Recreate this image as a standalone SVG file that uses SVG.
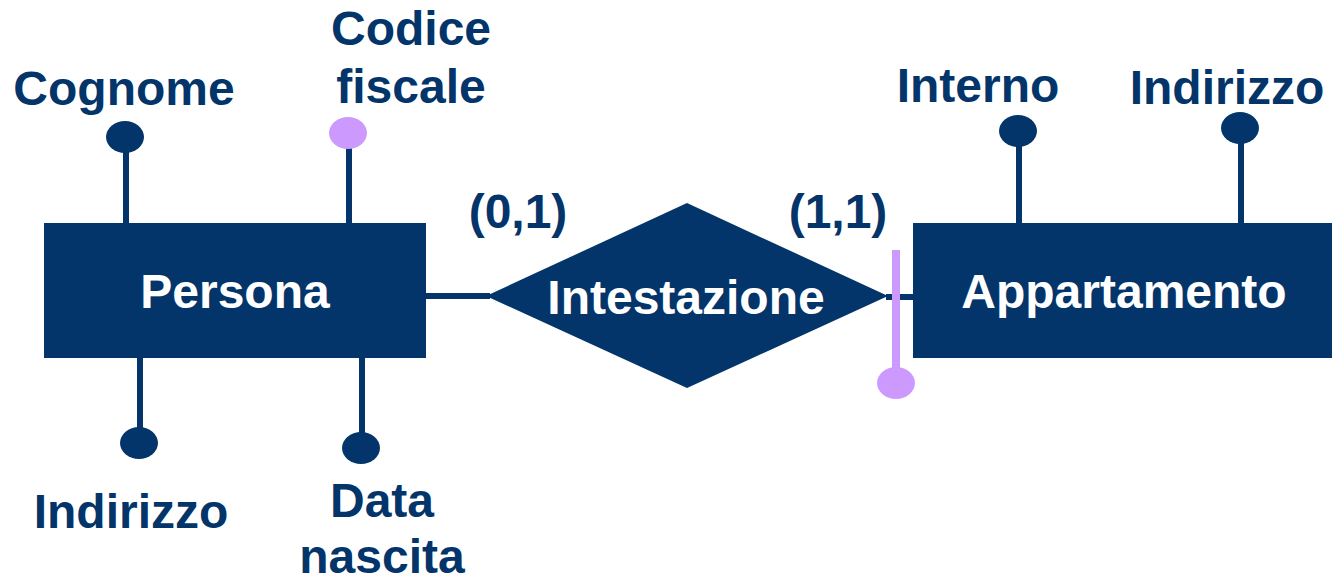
<svg xmlns="http://www.w3.org/2000/svg" width="1332" height="579" viewBox="0 0 1332 579">
  <style>
    .ent { fill: #03356a; }
    .lbl { font-family: "Liberation Sans", Arial, sans-serif; font-weight: bold; font-size: 48px; fill: #03356a; text-anchor: middle; }
    .inner { font-family: "Liberation Sans", Arial, sans-serif; font-weight: bold; font-size: 48px; fill: #ffffff; text-anchor: middle; }
    .att { stroke: #03356a; stroke-width: 6; fill: none; }
    .dot { fill: #03356a; }
    .key { stroke: #cc99ff; stroke-width: 8; fill: none; }
    .keydot { fill: #cc99ff; }
  </style>
  <rect width="1332" height="579" fill="#ffffff"/>

  <!-- connectors: attribute stems and relationship links -->
  <g id="connectors">
    <line class="att" x1="426" y1="296" x2="490" y2="296"/>
    <line class="att" x1="886" y1="297" x2="913" y2="297"/>
    <line class="att" x1="126" y1="137" x2="126" y2="223"/>
    <line class="att" x1="349" y1="133" x2="349" y2="223"/>
    <line class="att" x1="140" y1="358" x2="140" y2="443"/>
    <line class="att" x1="362" y1="358" x2="362" y2="448"/>
    <line class="att" x1="1019" y1="131" x2="1019" y2="223"/>
    <line class="att" x1="1241" y1="128" x2="1241" y2="223"/>
  </g>

  <!-- entity Persona -->
  <g id="persona">
    <rect class="ent" x="44" y="223" width="382" height="135"/>
    <text class="inner" x="235" y="308">Persona</text>
  </g>

  <!-- relationship Intestazione -->
  <g id="intestazione">
    <polygon class="ent" points="687,203 888,296 687,388 486,296"/>
    <text class="inner" x="686" y="314">Intestazione</text>
    <text class="lbl" x="518" y="228">(0,1)</text>
    <text class="lbl" x="838" y="228">(1,1)</text>
  </g>

  <!-- entity Appartamento -->
  <g id="appartamento">
    <rect class="ent" x="913" y="223" width="430" height="135"/>
    <text class="inner" x="1124" y="308">Appartamento</text>
  </g>

  <!-- Persona attributes -->
  <g id="attr-cognome">
    <ellipse class="dot" cx="125" cy="137" rx="19" ry="16"/>
    <text class="lbl" x="124" y="105">Cognome</text>
  </g>
  <g id="attr-codice-fiscale">
    <ellipse class="keydot" cx="348" cy="133" rx="19" ry="16"/>
    <text class="lbl" x="411" y="45">Codice</text>
    <text class="lbl" x="411" y="103">fiscale</text>
  </g>
  <g id="attr-indirizzo-persona">
    <ellipse class="dot" cx="139" cy="443" rx="19" ry="16"/>
    <text class="lbl" x="131" y="528">Indirizzo</text>
  </g>
  <g id="attr-data-nascita">
    <ellipse class="dot" cx="361" cy="448" rx="19" ry="16"/>
    <text class="lbl" x="382" y="517">Data</text>
    <text class="lbl" x="382" y="573">nascita</text>
  </g>

  <!-- Appartamento attributes -->
  <g id="attr-interno">
    <ellipse class="dot" cx="1018" cy="131" rx="19" ry="16"/>
    <text class="lbl" x="978" y="102">Interno</text>
  </g>
  <g id="attr-indirizzo-appartamento">
    <ellipse class="dot" cx="1240" cy="128" rx="19" ry="16"/>
    <text class="lbl" x="1227" y="104">Indirizzo</text>
  </g>

  <!-- external identifier: bar across the link to Intestazione -->
  <g id="identifier">
    <line class="key" x1="896" y1="250" x2="896" y2="383"/>
    <ellipse class="keydot" cx="896" cy="383" rx="19" ry="16"/>
  </g>
</svg>
